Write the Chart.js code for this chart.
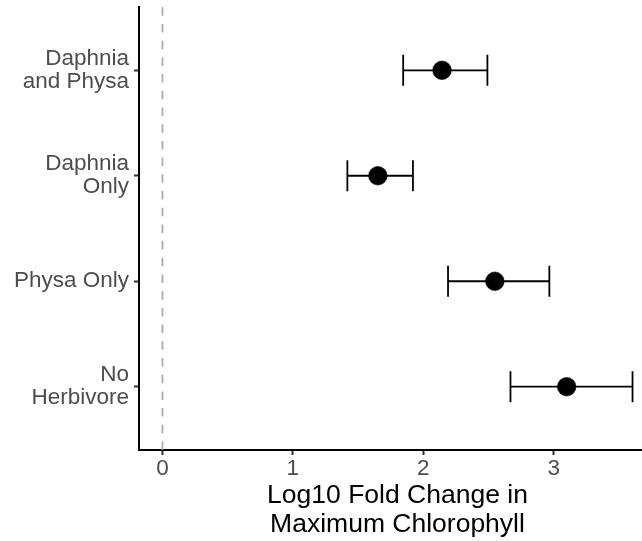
<!DOCTYPE html>
<html>
<head>
<meta charset="utf-8">
<script src="https://cdn.jsdelivr.net/npm/chart.js@4/dist/chart.umd.min.js"></script>
<style>
  html, body { margin: 0; padding: 0; background: #fff; overflow: hidden; }
  #wrap { width: 656px; height: 541px; }
</style>
</head>
<body>
<div id="wrap"><canvas id="plot" width="656" height="541"></canvas></div>
<script>
// treatments, top to bottom
const treatments = [['Daphnia', 'and Physa'], ['Daphnia', 'Only'], ['Physa Only'], ['No', 'Herbivore']]
// log10 fold change in max chlorophyll, mean with lower / upper interval
const meanVals = [2.144, 1.652, 2.549, 3.100]
const lowVals = [1.846, 1.418, 2.190, 2.669]
const highVals = [2.492, 1.921, 2.967, 3.605]
const xTicks = [0, 1, 2, 3]

const fontFam = '"Liberation Sans", Arial, Helvetica, sans-serif'

var datasets = []

// mean points (first dataset gets drawn on top)
datasets.push({
    type: 'scatter',
    data: meanVals.map(function (v, i) { return { x: v, y: i } }),
    pointRadius: 9.3,
    pointBackgroundColor: '#000',
    pointBorderColor: '#000',
    pointBorderWidth: 0.6
})

// error bars, caps are rotated 'line' points
for (let i = 0; i < treatments.length; i++) {
    datasets.push({
        type: 'line',
        data: [{ x: lowVals[i], y: i }, { x: highVals[i], y: i }],
        borderColor: '#000',
        borderWidth: 1.8,
        pointStyle: 'line',
        rotation: 90,
        pointRadius: 15.5,
        pointBorderColor: '#000',
        pointBorderWidth: 1.8,
        fill: false
    })
}

// reference line at zero
datasets.push({
    type: 'line',
    data: [{ x: 0, y: 3.6 }, { x: 0, y: -0.6 }],
    borderColor: '#ababab',
    borderWidth: 1.8,
    borderDash: [8.5, 8.2],
    pointRadius: 0,
    fill: false
})

// no extra room for the outer tick labels
function noEdgePadding(scale) {
    scale.paddingTop = 0
    scale.paddingBottom = 0
    scale.paddingLeft = 0
    scale.paddingRight = 0
}

new Chart(document.getElementById('plot'), {
    type: 'scatter',
    data: { datasets: datasets },
    options: {
        responsive: false,
        animation: false,
        events: [],
        layout: { autoPadding: false, padding: { top: 7, right: 0, bottom: 0, left: 0 } },
        plugins: { legend: { display: false }, tooltip: { enabled: false } },
        scales: {
            x: {
                type: 'linear',
                min: -0.18,
                max: 3.785,
                afterBuildTicks: function (scale) {
                    scale.ticks = xTicks.map(function (v) { return { value: v } })
                },
                afterFit: function (scale) {
                    scale.height = 91
                    noEdgePadding(scale)
                },
                border: { display: true, color: '#000', width: 2 },
                grid: { drawOnChartArea: false, drawTicks: true, tickLength: 5, tickColor: '#333', tickWidth: 2 },
                ticks: {
                    color: '#4d4d4d',
                    padding: 2,
                    maxRotation: 0,
                    font: { family: fontFam, size: 22.5, lineHeight: '23px' },
                    callback: function (v) { return String(v) }
                },
                title: {
                    display: true,
                    text: ['Log10 Fold Change in', 'Maximum Chlorophyll'],
                    color: '#000',
                    padding: { top: 0, bottom: 2 },
                    font: { family: fontFam, size: 26.5, lineHeight: '29px' }
                }
            },
            y: {
                type: 'linear',
                reverse: true,
                min: -0.6,
                max: 3.6,
                afterBuildTicks: function (scale) {
                    scale.ticks = treatments.map(function (t, i) { return { value: i } })
                },
                afterFit: function (scale) {
                    scale.width = 139
                    noEdgePadding(scale)
                },
                border: { display: true, color: '#000', width: 2 },
                grid: { drawOnChartArea: false, drawTicks: true, tickLength: 5, tickColor: '#333', tickWidth: 2 },
                ticks: {
                    color: '#4d4d4d',
                    padding: 5,
                    font: { family: fontFam, size: 22.5, lineHeight: '23px' },
                    callback: function (v) { return treatments[v] }
                }
            }
        }
    }
})
</script>
</body>
</html>
